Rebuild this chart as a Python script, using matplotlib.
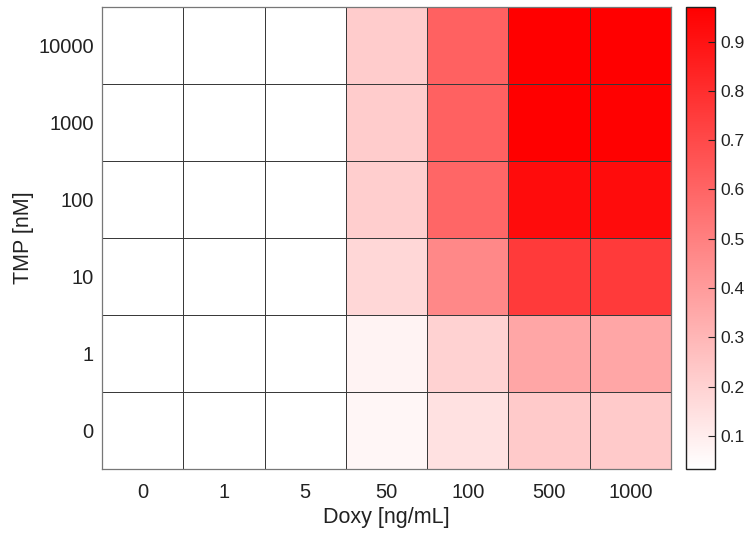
import numpy as np
import matplotlib
matplotlib.use("Agg")
import matplotlib.pyplot as plt
from matplotlib.colors import LinearSegmentedColormap

plt.rcParams['font.family'] = ['Liberation Sans', 'DejaVu Sans']

doxy = ["0", "1", "5", "50", "100", "500", "1000"]
tmp = ["0", "1", "10", "100", "1000", "10000"]  # bottom to top

# rows: TMP from 0 (bottom) to 10000 (top); cols: Doxy
row_tmp0 = [0.033, 0.033, 0.033, 0.066, 0.145, 0.23, 0.23]
row_tmp1 = [0.033, 0.033, 0.033, 0.080, 0.200, 0.36, 0.36]
row_tmp10 = [0.033, 0.033, 0.033, 0.183, 0.470, 0.755, 0.755]
row_tmp100 = [0.033, 0.033, 0.033, 0.215, 0.595, 0.926, 0.926]
row_tmp1000 = [0.033, 0.033, 0.033, 0.220, 0.614, 0.970, 0.965]
row_tmp10000 = [0.033, 0.033, 0.033, 0.220, 0.614, 0.970, 0.970]

data = np.array([row_tmp0, row_tmp1, row_tmp10, row_tmp100, row_tmp1000, row_tmp10000])

cmap = LinearSegmentedColormap.from_list("wr", ["#ffffff", "#ff0000"])

fig = plt.figure(figsize=(7.49, 5.41), dpi=100)
ax = fig.add_axes([102/749, 1-469/541, (671-102)/749, (469-7)/541])
cax = fig.add_axes([686/749, 1-469/541, (715-686)/749, (469-7)/541])

mesh = ax.pcolormesh(data, cmap=cmap, vmin=data.min(), vmax=data.max(),
                     edgecolors='#3a3a3a', linewidth=0.7)
ax.set_xticks(np.arange(len(doxy)) + 0.5)
ax.set_xticklabels(doxy)
ax.set_yticks(np.arange(len(tmp)) + 0.5)
ax.set_yticklabels(tmp)
ax.tick_params(length=0, labelsize=14.5, colors='#222222')
ax.tick_params(axis='x', pad=10)
ax.tick_params(axis='y', pad=6)
ax.set_xlabel("Doxy [ng/mL]", fontsize=15.5, labelpad=4, color='#222222')
ax.set_ylabel("TMP [nM]", fontsize=15.5, labelpad=3, color='#222222')
for s in ax.spines.values():
    s.set_color('#777777')
    s.set_linewidth(0.9)

cb = fig.colorbar(mesh, cax=cax)
cb.set_ticks([0.1, 0.2, 0.3, 0.4, 0.5, 0.6, 0.7, 0.8, 0.9])
cb.ax.tick_params(direction='in', length=5, labelsize=12.5, colors='#222222', width=0.8, pad=4)
cb.outline.set_linewidth(1.0)
cb.outline.set_edgecolor('#222222')

fig.savefig("out.png", dpi=100)
